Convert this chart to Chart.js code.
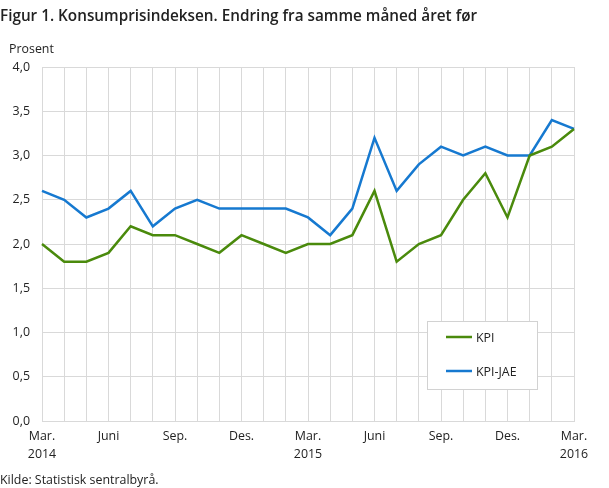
<!DOCTYPE html>
<html lang="no">
<head>
<meta charset="UTF-8">
<title>Konsumprisindeksen</title>
<script src="https://cdn.jsdelivr.net/npm/chart.js"></script>
<style>
  html, body { margin: 0; padding: 0; background: #fff; }
  #wrap { width: 609px; height: 488px; position: relative; }
</style>
</head>
<body>
<div id="wrap"><canvas id="chart" width="609" height="488"></canvas></div>
<script>
// months Mar 2014 .. Mar 2016, label only every third month
const months = [
  ['Mar.', '2014'], '', '', 'Juni', '', '', 'Sep.', '', '', 'Des.', '', '',
  ['Mar.', '2015'], '', '', 'Juni', '', '', 'Sep.', '', '', 'Des.', '', '',
  ['Mar.', '2016']
];
const kpi    = [2.0, 1.8, 1.8, 1.9, 2.2, 2.1, 2.1, 2.0, 1.9, 2.1, 2.0, 1.9, 2.0,
                2.0, 2.1, 2.6, 1.8, 2.0, 2.1, 2.5, 2.8, 2.3, 3.0, 3.1, 3.3];
const kpiJae = [2.6, 2.5, 2.3, 2.4, 2.6, 2.2, 2.4, 2.5, 2.4, 2.4, 2.4, 2.4, 2.3,
                2.1, 2.4, 3.2, 2.6, 2.9, 3.1, 3.0, 3.1, 3.0, 3.0, 3.4, 3.3];
const yTicks = [0, 0.5, 1, 1.5, 2, 2.5, 3, 3.5, 4];

const FONT = '"Open Sans", "Noto Sans", sans-serif';
const TXT = '#222';

// title, unit label, source and the boxed legend drawn on the canvas
const extras = {
  id: 'extras',
  afterDraw(chart) {
    const ctx = chart.ctx;
    ctx.save();
    ctx.fillStyle = TXT;
    ctx.textBaseline = 'middle';
    ctx.textAlign = 'left';
    ctx.font = '600 15.3px ' + FONT;
    ctx.fillText('Figur 1. Konsumprisindeksen. Endring fra samme måned året før', 0, 17);
    ctx.font = '12.4px ' + FONT;
    ctx.fillText('Prosent', 9, 49);
    ctx.font = '12.4px ' + FONT;
    ctx.fillText('Kilde: Statistisk sentralbyrå.', 0, 480);

    // legend box
    const bx = 427, by = 321, bw = 110, bh = 68;
    ctx.fillStyle = '#fff';
    ctx.fillRect(bx, by, bw, bh);
    ctx.strokeStyle = '#d2d2d2';
    ctx.lineWidth = 1;
    ctx.strokeRect(bx + 0.5, by + 0.5, bw, bh);
    ctx.font = '12.4px ' + FONT;
    chart.data.datasets.forEach((ds, i) => {
      const y = by + 16 + i * 34;
      ctx.strokeStyle = ds.borderColor;
      ctx.lineWidth = 2.5;
      ctx.beginPath();
      ctx.moveTo(bx + 19, y);
      ctx.lineTo(bx + 45, y);
      ctx.stroke();
      ctx.fillStyle = TXT;
      ctx.fillText(ds.label, bx + 49, y + 1);
    });
    ctx.restore();
  }
};

new Chart(document.getElementById('chart').getContext('2d'), {
  type: 'line',
  data: {
    labels: months,
    datasets: [
      { label: 'KPI', data: kpi, borderColor: '#4a8a0c', borderWidth: 2.5,
        pointRadius: 0, tension: 0, fill: false },
      { label: 'KPI-JAE', data: kpiJae, borderColor: '#1679d0', borderWidth: 2.5,
        pointRadius: 0, tension: 0, fill: false }
    ]
  },
  options: {
    responsive: false,
    animation: false,
    layout: { padding: { left: 0, right: 35, top: 67, bottom: 0 } },
    plugins: { legend: { display: false }, title: { display: false }, tooltip: { enabled: false } },
    scales: {
      x: {
        grid: { color: '#d9d9d9', drawTicks: false, offset: false },
        border: { color: '#d9d9d9' },
        ticks: {
          autoSkip: false, maxRotation: 0, padding: 6, color: TXT,
          font: { family: FONT, size: 12.4, lineHeight: 1.45 }
        },
        afterFit(scale) { scale.height = 67; }
      },
      y: {
        min: 0, max: 4,
        afterBuildTicks(scale) { scale.ticks = yTicks.map(v => ({ value: v })); },
        grid: { color: '#d9d9d9', drawTicks: false },
        border: { display: false },
        ticks: {
          padding: 12, color: TXT,
          font: { family: FONT, size: 12.4 },
          callback: v => v.toFixed(1).replace('.', ',')
        },
        afterFit(scale) { scale.width = 42; }
      }
    }
  },
  plugins: [extras]
});
</script>
</body>
</html>
